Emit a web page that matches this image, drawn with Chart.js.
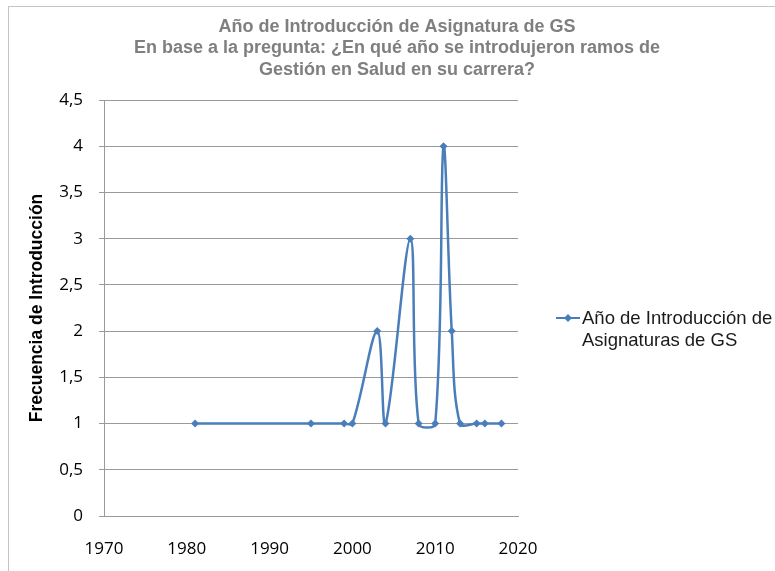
<!DOCTYPE html>
<html>
<head>
<meta charset="utf-8">
<script src="https://cdn.jsdelivr.net/npm/chart.js@4/dist/chart.umd.min.js"></script>
<style>
  html, body { margin: 0; padding: 0; background: #fff; }
  #wrap { position: relative; width: 775px; height: 571px; }
  #frame { position: absolute; left: 8px; top: 6px; width: 780px; height: 580px;
           border-left: 1px solid #c4c4c4; border-top: 1px solid #c4c4c4; }
</style>
</head>
<body>
<div id="wrap">
  <div id="frame"></div>
  <canvas id="chart-canvas" width="775" height="571"></canvas>
</div>
<script>
const years = [1981, 1995, 1999, 2000, 2003, 2004, 2007, 2008, 2010, 2011, 2012, 2013, 2015, 2016, 2018];
const frequencies = [1, 1, 1, 1, 2, 1, 3, 1, 1, 4, 2, 1, 1, 1, 1];
const titleLines = [
  'Año de Introducción de Asignatura de GS',
  'En base a la pregunta: ¿En qué año se introdujeron ramos de',
  'Gestión en Salud en su carrera?'
];
const seriesName = ['Año de Introducción de', 'Asignaturas de GS'];
const yTitle = 'Frecuencia de Introducción';
const lineColor = '#4a7ebb';

const ctx = document.getElementById('chart-canvas').getContext('2d');

// title and the two-line legend are drawn by hand, Chart.js won't wrap them
const extras = {
  id: 'extras',
  afterDraw(chart) {
    const c = chart.ctx;
    c.save();
    c.fillStyle = '#7f7f7f';
    c.font = 'bold 18px "Liberation Sans", Arial, sans-serif';
    c.textAlign = 'center';
    c.textBaseline = 'middle';
    titleLines.forEach((t, i) => c.fillText(t, 397, 27 + i * 21.5));

    const ly = 318;
    c.strokeStyle = lineColor;
    c.lineWidth = 2;
    c.beginPath();
    c.moveTo(556, ly);
    c.lineTo(580, ly);
    c.stroke();
    c.fillStyle = lineColor;
    c.beginPath();
    c.moveTo(568, ly - 4);
    c.lineTo(572, ly);
    c.lineTo(568, ly + 4);
    c.lineTo(564, ly);
    c.closePath();
    c.fill();

    c.fillStyle = '#1a1a1a';
    c.font = '18.5px "Liberation Sans", Arial, sans-serif';
    c.textAlign = 'left';
    seriesName.forEach((t, i) => c.fillText(t, 582, ly + 1 + i * 22));
    c.restore();
  }
};

new Chart(ctx, {
  type: 'line',
  data: {
    datasets: [{
      label: seriesName.join(' '),
      data: years.map((x, i) => ({ x, y: frequencies[i] })),
      borderColor: lineColor,
      backgroundColor: lineColor,
      borderWidth: 2.5,
      tension: 0.35,
      pointStyle: 'rectRot',
      pointRadius: 4,
      pointBorderWidth: 0,
      fill: false
    }]
  },
  options: {
    responsive: false,
    animation: false,
    layout: { padding: { left: 0, right: 257, top: 100, bottom: 0 } },
    plugins: {
      legend: { display: false },
      title: { display: false },
      tooltip: { enabled: false }
    },
    scales: {
      x: {
        type: 'linear',
        min: 1970,
        max: 2020,
        afterFit: s => { s.height = 55; },
        ticks: {
          stepSize: 10,
          color: '#000',
          font: { family: '"Open Sans", sans-serif', size: 17 },
          padding: 23,
          callback: v => String(v)
        },
        grid: { display: false, drawTicks: false },
        border: { color: '#9a9a9a', width: 1 }
      },
      y: {
        min: 0,
        max: 4.5,
        afterFit: s => { s.width = 104; },
        ticks: {
          stepSize: 0.5,
          color: '#000',
          font: { family: '"Open Sans", sans-serif', size: 17 },
          padding: 16,
          callback: v => String(v).replace('.', ',')
        },
        grid: { color: '#9a9a9a', lineWidth: 1, tickLength: 5 },
        border: { color: '#9a9a9a', width: 1 },
        title: {
          display: true,
          text: yTitle,
          color: '#000',
          font: { family: '"Liberation Sans Narrow", "Liberation Sans", sans-serif', size: 17.5, weight: 'bold' },
          padding: { top: 27, bottom: 0 }
        }
      }
    }
  },
  plugins: [extras]
});
</script>
</body>
</html>
